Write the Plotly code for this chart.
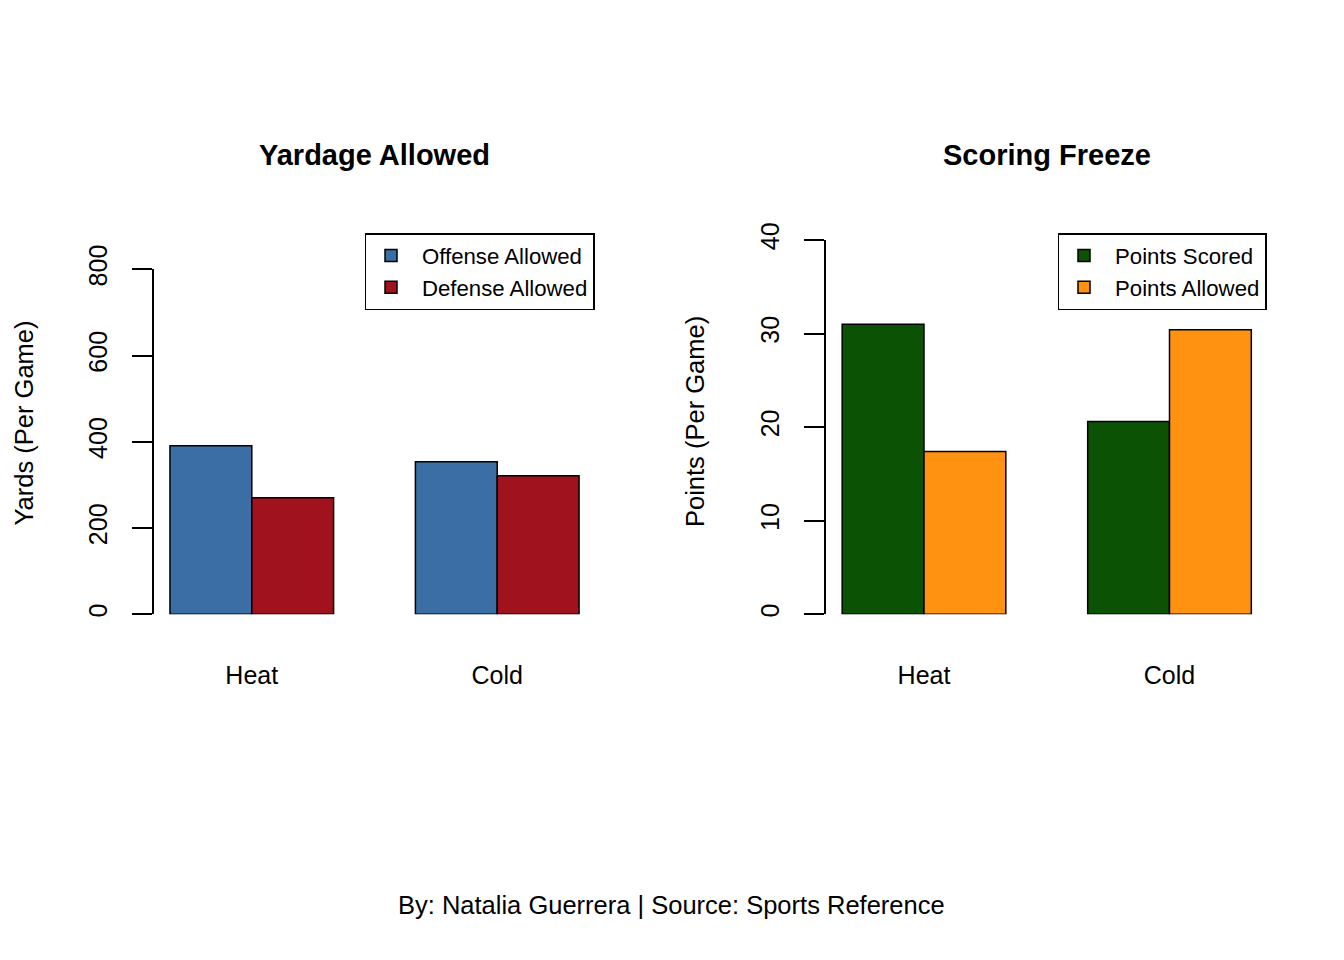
import plotly.graph_objects as go

W, H = 1344, 960

categories = ["Heat", "Cold"]
offense_allowed = [391, 354]
defense_allowed = [270, 321]
points_scored = [31.0, 20.6]
points_allowed = [17.4, 30.4]

left_ticks = [0, 200, 400, 600, 800]
right_ticks = [0, 10, 20, 30, 40]

FONT = "Liberation Sans, Arial, Helvetica, sans-serif"

def px_x(p):
    return p / W

def px_y(p):
    return 1 - p / H

fig = go.Figure()
line = dict(color="black", width=1.5)
fig.add_trace(go.Bar(x=categories, y=offense_allowed, name="Offense Allowed",
                     marker=dict(color="#3A6EA5", line=line), xaxis="x", yaxis="y", legend="legend"))
fig.add_trace(go.Bar(x=categories, y=defense_allowed, name="Defense Allowed",
                     marker=dict(color="#A0121D", line=line), xaxis="x", yaxis="y", legend="legend"))
fig.add_trace(go.Bar(x=categories, y=points_scored, name="Points Scored",
                     marker=dict(color="#0B5205", line=line), xaxis="x2", yaxis="y2", legend="legend2"))
fig.add_trace(go.Bar(x=categories, y=points_allowed, name="Points Allowed",
                     marker=dict(color="#FF9210", line=line), xaxis="x2", yaxis="y2", legend="legend2"))

xcommon = dict(showline=False, showgrid=False, zeroline=False, ticks="", automargin=False,
               range=[-0.4, 1.4], tickfont=dict(size=25, color="black", family=FONT),
               ticklabelstandoff=44, categoryorder="array", categoryarray=categories)
ycommon = dict(showline=True, linewidth=1.5, linecolor="black", ticks="outside", automargin=False,
               ticklen=20, tickwidth=1.5, tickcolor="black", showgrid=False, zeroline=False,
               tickangle=-90, tickfont=dict(size=25, color="black", family=FONT),
               ticklabelstandoff=15)
legcommon = dict(xanchor="right", yanchor="top", bordercolor="black", borderwidth=1.5,
                 bgcolor="white", font=dict(size=22.2, color="black", family=FONT),
                 tracegroupgap=0, itemwidth=52, indentation=-6)

fig.update_layout(
    template="none",
    width=W, height=H, autosize=False,
    margin=dict(l=0, r=0, t=0, b=0, pad=0, autoexpand=False),
    paper_bgcolor="white", plot_bgcolor="white",
    barmode="group", bargap=1/3, bargroupgap=0,
    font=dict(family=FONT, color="black"),
    xaxis=dict(domain=[px_x(153.6), px_x(595.4)], anchor="y", **xcommon),
    xaxis2=dict(domain=[px_x(825.8), px_x(1267.7)], anchor="y2", **xcommon),
    yaxis=dict(domain=[px_y(614.3), px_y(269.3)], range=[0, 800], tickvals=left_ticks,
               anchor="x", **ycommon),
    yaxis2=dict(domain=[px_y(614.3), px_y(240)], range=[0, 40], tickvals=right_ticks,
                anchor="x2", **ycommon),
    legend=dict(x=px_x(594.5), y=px_y(233), **legcommon),
    legend2=dict(x=px_x(1266.5), y=px_y(233), **legcommon),
    annotations=[
        dict(text="<b>Yardage Allowed</b>", x=px_x(374.5), y=px_y(155), xref="paper", yref="paper",
             xanchor="center", yanchor="middle", showarrow=False,
             font=dict(size=29, color="black", family=FONT)),
        dict(text="<b>Scoring Freeze</b>", x=px_x(1046.7), y=px_y(155), xref="paper", yref="paper",
             xanchor="center", yanchor="middle", showarrow=False,
             font=dict(size=29, color="black", family=FONT)),
        dict(text="Yards (Per Game)", x=px_x(23), y=px_y(423.5), xref="paper", yref="paper",
             xanchor="center", yanchor="middle", showarrow=False, textangle=-90,
             font=dict(size=25.5, color="black", family=FONT)),
        dict(text="Points (Per Game)", x=px_x(695), y=px_y(422), xref="paper", yref="paper",
             xanchor="center", yanchor="middle", showarrow=False, textangle=-90,
             font=dict(size=25.5, color="black", family=FONT)),
        dict(text="By: Natalia Guerrera | Source: Sports Reference", x=px_x(671), y=px_y(905),
             xref="paper", yref="paper", xanchor="center", yanchor="middle", showarrow=False,
             font=dict(size=25.5, color="black", family=FONT)),
    ],
)

fig.write_html("out.html", config={"displayModeBar": False},
               post_script="document.body.style.margin='0px';")
